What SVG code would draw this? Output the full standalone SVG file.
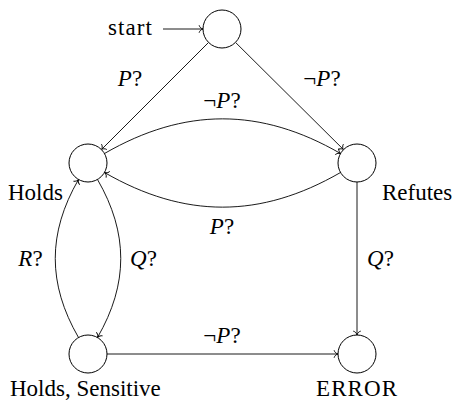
<svg xmlns="http://www.w3.org/2000/svg" width="455" height="401" viewBox="0 0 455 401" font-family="'Liberation Serif', 'Times New Roman', Times, serif">
<style>
.state{fill:#fff;stroke:#000;stroke-width:1}
.edge{fill:none;stroke:#000;stroke-width:0.9;marker-end:url(#to)}
text{font-family:'Liberation Serif','Times New Roman',Times,serif;font-size:23px;fill:#000}
.m{text-anchor:middle}
.it{font-style:italic}
</style>
<defs>
<marker id="to" markerUnits="userSpaceOnUse" viewBox="-6 -5 8 10" markerWidth="8" markerHeight="10" refX="0" refY="0" orient="auto" overflow="visible">
<path d="M-3.8,-3.4 C-3.3,-1.4 -1.4,-0.3 0,0 C-1.4,0.3 -3.3,1.4 -3.8,3.4" fill="none" stroke="#000" stroke-width="0.9" stroke-linecap="round"/>
</marker>
</defs>
<g id="connectors">
<path id="e-init" class="edge" d="M163,29 L203,29"/>
<path id="e-start-holds" class="edge" d="M208.6,42.4 L101.4,149.6"/>
<path id="e-start-refutes" class="edge" d="M235.5,42.4 L343.5,149.6"/>
<path id="e-holds-refutes" class="edge" d="M104.5,153.5 C184.5,107.3 260.5,107.3 340.5,153.5"/>
<path id="e-refutes-holds" class="edge" d="M340.5,172.5 C260.5,218.7 184.5,218.7 104.5,172.5"/>
<path id="e-holds-hs" class="edge" d="M97.5,179.5 C128.5,233.1 128.5,283.9 97.5,337.5"/>
<path id="e-hs-holds" class="edge" d="M78.5,337.5 C47.5,283.9 47.5,233.1 78.5,179.5"/>
<path id="e-refutes-error" class="edge" d="M357,182 L357,335"/>
<path id="e-hs-error" class="edge" d="M107,354 L338,354"/>
<text class="m" x="130" y="86"><tspan class="it">P</tspan>?</text>
<text class="m" x="322" y="86">¬<tspan class="it">P</tspan>?</text>
<text class="m" x="222" y="108">¬<tspan class="it">P</tspan>?</text>
<text class="m" x="222" y="234"><tspan class="it">P</tspan>?</text>
<text class="m" x="30.5" y="266"><tspan class="it">R</tspan>?</text>
<text class="m" x="143.5" y="266"><tspan class="it">Q</tspan>?</text>
<text class="m" x="380.5" y="266"><tspan class="it">Q</tspan>?</text>
<text class="m" x="222" y="343">¬<tspan class="it">P</tspan>?</text>
</g>
<g id="start">
<circle class="state" cx="222" cy="29" r="19"/>
<text x="108" y="35" textLength="44">start</text>
</g>
<g id="holds">
<circle class="state" cx="88" cy="163" r="19"/>
<text x="8" y="200">Holds</text>
</g>
<g id="refutes">
<circle class="state" cx="357" cy="163" r="19"/>
<text x="382" y="200">Refutes</text>
</g>
<g id="holds-sensitive">
<circle class="state" cx="88" cy="354" r="19"/>
<text x="10" y="396">Holds, Sensitive</text>
</g>
<g id="error">
<circle class="state" cx="357" cy="354" r="19"/>
<text x="316" y="396" textLength="81">ERROR</text>
</g>
</svg>
